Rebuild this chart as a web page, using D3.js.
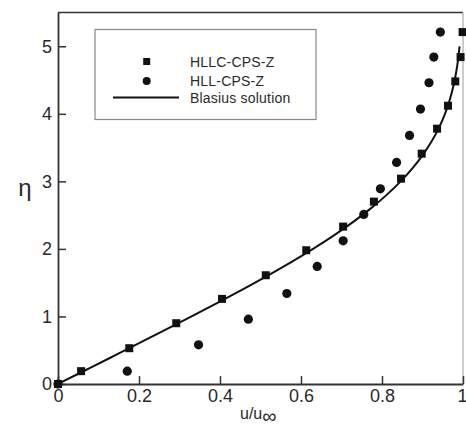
<!DOCTYPE html>
<html>
<head>
<meta charset="utf-8">
<script src="https://cdn.jsdelivr.net/npm/d3@7"></script>
<style>
  html, body { margin: 0; padding: 0; background: #fff; }
  svg { display: block; }
  text { font-family: "Liberation Sans", Arial, sans-serif; fill: #2a2a2a; }
</style>
</head>
<body>
<svg id="chart" width="466" height="427"></svg>
<script>
// Boundary-layer velocity profile: u/u∞ against η

// HLLC-CPS-Z (squares)
const hllcU   = [0, 0.057, 0.176, 0.292, 0.405, 0.513, 0.613, 0.704, 0.780, 0.847, 0.898, 0.936, 0.963, 0.981, 0.994, 0.999];
const hllcEta = [0, 0.19, 0.53, 0.90, 1.26, 1.61, 1.98, 2.33, 2.70, 3.04, 3.41, 3.78, 4.12, 4.48, 4.84, 5.21];

// HLL-CPS-Z (circles)
const hllU   = [0, 0.171, 0.347, 0.470, 0.565, 0.640, 0.704, 0.755, 0.796, 0.836, 0.868, 0.895, 0.916, 0.928, 0.944];
const hllEta = [0, 0.19, 0.58, 0.96, 1.34, 1.74, 2.12, 2.51, 2.89, 3.28, 3.68, 4.07, 4.46, 4.84, 5.21];

// Blasius solution f'(η)
const blasiusEta = [0, 0.2, 0.4, 0.6, 0.8, 1.0, 1.2, 1.4, 1.6, 1.8, 2.0, 2.2, 2.4, 2.6, 2.8, 3.0, 3.2, 3.4, 3.6, 3.8, 4.0, 4.2, 4.4, 4.6, 4.8, 5.0];
const blasiusU   = [0, 0.06641, 0.13277, 0.19894, 0.26471, 0.32979, 0.39378, 0.45627, 0.51676, 0.57477, 0.62977, 0.68132, 0.72899, 0.77246, 0.81152, 0.84605, 0.87609, 0.90177, 0.92333, 0.94112, 0.95552, 0.96696, 0.97587, 0.98269, 0.98779, 0.99155];

const xTicks = [0, 0.2, 0.4, 0.6, 0.8, 1];
const xTickLabels = ["0", "0.2", "0.4", "0.6", "0.8", "1"];
const yTicks = [0, 1, 2, 3, 4, 5];
const yTickLabels = ["0", "1", "2", "3", "4", "5"];

const legendLabels = ["HLLC-CPS-Z", "HLL-CPS-Z", "Blasius solution"];

const svg = d3.select("#chart");
const m = { left: 58, right: 463, top: 12.5, bottom: 384 };

const x = d3.scaleLinear().domain([0, 1]).range([m.left, m.right]);
const y = d3.scaleLinear().domain([0, 5.5]).range([m.bottom, m.top]);

// frame: top and right edges
svg.append("line").attr("x1", m.left).attr("x2", m.right).attr("y1", m.top).attr("y2", m.top)
  .attr("stroke", "#333").attr("stroke-width", 1.5);
svg.append("line").attr("x1", m.right).attr("x2", m.right).attr("y1", m.top).attr("y2", m.bottom)
  .attr("stroke", "#aaa").attr("stroke-width", 1.2);

// axes with inward ticks
const xAxis = d3.axisBottom(x).tickValues(xTicks).tickFormat((d, i) => xTickLabels[i])
  .tickSizeInner(-8).tickSizeOuter(0).tickPadding(5);
const yAxis = d3.axisLeft(y).tickValues(yTicks).tickFormat((d, i) => yTickLabels[i])
  .tickSizeInner(-8).tickSizeOuter(0).tickPadding(6);

const gx = svg.append("g").attr("transform", `translate(0,${m.bottom})`).call(xAxis);
const gy = svg.append("g").attr("transform", `translate(${m.left},0)`).call(yAxis);
[gx, gy].forEach(g => {
  g.select(".domain").attr("stroke", "#333").attr("stroke-width", 1.8);
  g.selectAll(".tick line").attr("stroke", "#333").attr("stroke-width", 1.5);
  g.selectAll(".tick text").attr("font-size", 18).attr("fill", "#2a2a2a")
    .attr("font-family", "'Liberation Sans', Arial, sans-serif");
});
// keep the last x label inside the page edge
gx.selectAll(".tick text").filter((d, i) => i === xTicks.length - 1)
  .attr("text-anchor", "end").attr("dx", 4);

// axis titles
svg.append("text").attr("x", 25).attr("y", 196).attr("text-anchor", "middle")
  .attr("font-family", "'DejaVu Sans', sans-serif").attr("font-size", 24).attr("fill", "#444")
  .text("η");
const xt = svg.append("text").attr("x", 240).attr("y", 419).attr("font-size", 16).attr("fill", "#333");
xt.append("tspan").text("u/u");
xt.append("tspan").attr("dy", 4).attr("font-size", 20).text("∞");

// Blasius line
const line = d3.line().x(d => x(d[0])).y(d => y(d[1])).curve(d3.curveMonotoneY);
svg.append("path").datum(blasiusU.map((u, i) => [u, blasiusEta[i]]))
  .attr("d", line).attr("fill", "none").attr("stroke", "#111").attr("stroke-width", 2);

// HLL circles
svg.append("g").selectAll("circle").data(hllU.map((u, i) => [u, hllEta[i]])).join("circle")
  .attr("cx", d => x(d[0])).attr("cy", d => y(d[1])).attr("r", 4.6).attr("fill", "#111");

// HLLC squares
const sq = 8;
svg.append("g").selectAll("rect").data(hllcU.map((u, i) => [u, hllcEta[i]])).join("rect")
  .attr("x", d => x(d[0]) - sq / 2).attr("y", d => y(d[1]) - sq / 2)
  .attr("width", sq).attr("height", sq).attr("fill", "#111");

// legend
const lg = svg.append("g");
lg.append("rect").attr("x", 95).attr("y", 29.5).attr("width", 221).attr("height", 90)
  .attr("fill", "#fff").attr("stroke", "#888").attr("stroke-width", 1.2);
const ly = [61.5, 81, 97.5];
lg.append("rect").attr("x", 146.7 - 3.5).attr("y", ly[0] - 3.5).attr("width", 7).attr("height", 7).attr("fill", "#111");
lg.append("circle").attr("cx", 146.7).attr("cy", ly[1]).attr("r", 4).attr("fill", "#111");
lg.append("line").attr("x1", 113).attr("x2", 179).attr("y1", ly[2]).attr("y2", ly[2])
  .attr("stroke", "#111").attr("stroke-width", 2);
lg.selectAll("text.lbl").data(legendLabels).join("text").attr("class", "lbl")
  .attr("x", 190).attr("y", (d, i) => ly[i] + 5).attr("font-size", 14).attr("letter-spacing", 0.2)
  .attr("fill", "#333")
  .text(d => d);
</script>
</body>
</html>
